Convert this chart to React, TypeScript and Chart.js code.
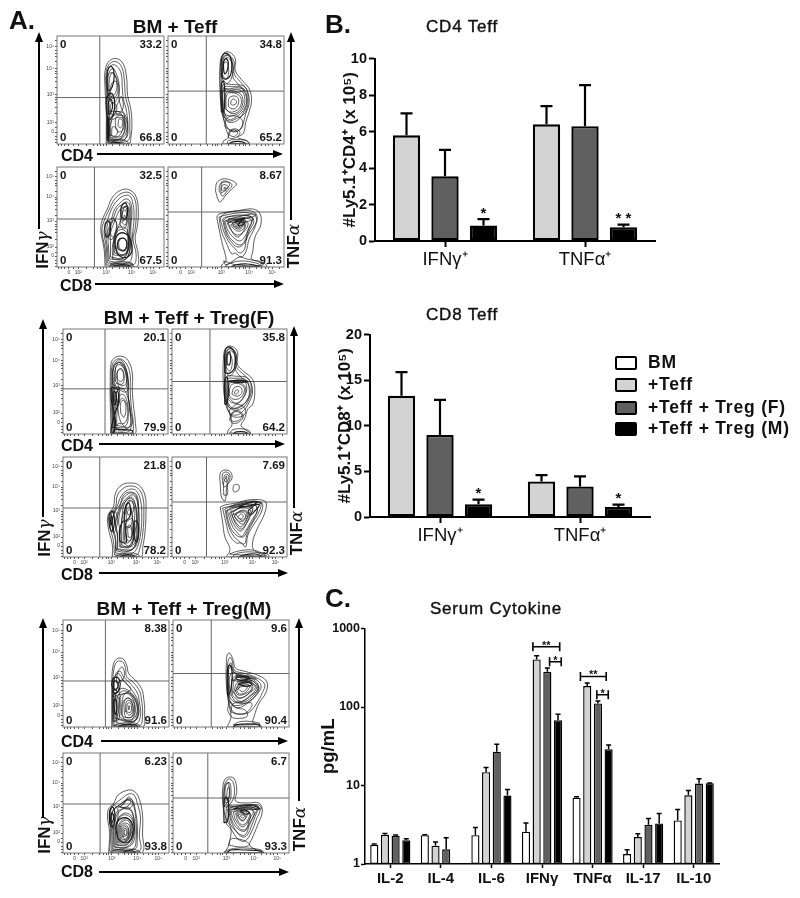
import React, { useEffect, useRef } from "react";
import { Chart, registerables } from "chart.js";

Chart.register(...registerables);

const FONT = "'Liberation Sans', Arial, sans-serif";
const GREEK = "'DejaVu Serif', serif";

// ---------- Bar chart data ----------
const effLabels = ["IFNγ⁺", "TNFα⁺"];
const cd4Teff = [5.8, 6.4];
const cd4TeffErr = [7.0, 7.4];
const cd4TregF = [3.55, 6.3];
const cd4TregFErr = [5.0, 8.55];
const cd4TregM = [0.85, 0.75];
const cd4TregMErr = [1.2, 0.9];
const cd4Stars = [
  { cat: 0, bar: 2, value: 1.6, text: "*" },
  { cat: 1, bar: 2, value: 1.3, text: "* *" },
];

const cd8Teff = [13.3, 3.9];
const cd8TeffErr = [15.9, 4.6];
const cd8TregF = [9.0, 3.35];
const cd8TregFErr = [12.85, 4.45];
const cd8TregM = [1.4, 1.1];
const cd8TregMErr = [1.9, 1.35];
const cd8Stars = [
  { cat: 0, bar: 2, value: 2.75, text: "*" },
  { cat: 1, bar: 2, value: 2.25, text: "*" },
];

const cytokines = ["IL-2", "IL-4", "IL-6", "IFNγ", "TNFα", "IL-17", "IL-10"];
const serumBM = [1.76, 2.33, 2.33, 2.58, 7.0, 1.34, 3.59];
const serumBMErr = [1.8, 2.36, 2.92, 3.32, 7.2, 1.52, 4.95];
const serumTeff = [2.36, 1.71, 14.8, 404, 185, 2.2, 7.5];
const serumTeffErr = [2.45, 1.9, 16.9, 450, 202, 2.43, 8.64];
const serumTregF = [2.29, 1.54, 27, 281, 111, 3.16, 10.6];
const serumTregFErr = [2.34, 2.16, 33.5, 313, 119, 3.8, 12.2];
const serumTregM = [2.0, null, 7.46, 68, 29, 3.29, 10.7];
const serumTregMErr = [2.1, null, 8.9, 81, 32.9, 4.4, 10.8];
const serumBrackets = [
  { from: 2.82, to: 3.35, value: 585, text: "**" },
  { from: 3.15, to: 3.38, value: 377, text: "*" },
  { from: 3.76, to: 4.27, value: 245, text: "**" },
  { from: 4.085, to: 4.31, value: 143, text: "*" },
];

const legendItems = ["BM", "+Teff", "+Teff + Treg (F)", "+Teff + Treg (M)"];
const legendColors = ["#ffffff", "#d3d3d3", "#606060", "#000000"];

// ---------- Flow cytometry axis values (biexponential channel, 0-100) ----------
const decadeTicks = [11, 20, 46, 70, 90];
const decadeLabels = ["0", "10²", "10³", "10⁴", "10⁵"];
const minorTicks = [1, 4, 7, 15, 28, 34, 38, 41, 43, 52, 58, 62, 65, 67, 76, 81, 84, 87, 96];

// ---------- Contours: x,y,x,y... in channel units ----------
const g1Cd4IfnLoops = [
  [46,0,46,30,45,50,45,68,49,77,56,79,62,74,65,62,66,45,69,32,70,18,69,6,67,0],
  [47,1,47,30,46,50,46,67,50,75,56,76,61,70,63,58,64,44,67,32,68,16,66,3],
  [48,2,48,30,47,50,47,66,51,73,56,72,60,65,61,52,62,42,65,30,66,14,62,3],
  [49,4,49,28,48,48,48,64,52,70,55,66,58,56,58,42,60,34,63,26,63,12,58,4],
  [50,6,51,22,56,30,60,28,62,20,60,10,55,6],
  [55,14,55,24,60,27,63,22,62,14,58,11],
  [57,17,58,23,61,22,61,17,59,15],
  [50,46,51,56,55,58,57,50,55,44,52,42],
  [51,8,52,16,56,14,56,9,53,7],
  [49,3,52,4,60,4,66,2,66,0,49,0],
  [47,3,47,26,49,30,53,30,58,30,63,28,66,18,64,5],
  [48,5,48,22,52,26,58,27,64,24,65,12,60,5],
  [49,8,50,20,55,24,61,24,64,16,60,7],
  [47,48,47,62,50,66,54,64,56,54,54,46,50,44],
  [49,44,49,60,52,66,56,60,58,48,55,40,51,38],
  [50,30,50,36,53,38,56,34,54,28,51,27],
  [54,32,58,40,60,44,62,36,60,30,56,28],
];
const g1Cd4IfnCores = [
  [47,24,46,38,48,46,52,46,54,36,52,26,49,22],
  [48,28,48,38,50,42,52,36,50,28],
  [47,50,47,66,50,72,53,68,53,58,50,50],
  [47,4,47,24,48,24,48,4],
  [50,0,52,2,58,1,59,0],
];
const g1Cd4TnfLoops = [
  [47,0,48,3,52,6,50,14,47,28,45,45,45,75,48,84,53,85,58,79,58,68,63,60,70,51,72,40,70,30,67,20,65,10,60,6,68,3,70,0],
  [46,30,46,74,49,82,53,82,57,76,57,65,62,58,68,50,70,38,67,28,64,17,60,12,54,12,50,18],
  [47,30,47,72,50,80,53,79,56,72,56,62,60,56,66,48,68,38,65,29,60,22,53,20,49,24],
  [48,32,48,50,54,50,62,50,66,44,65,34,60,28,53,26,49,28],
  [50,33,51,46,58,47,63,42,62,34,57,30,52,30],
  [52,35,53,43,59,44,61,39,58,33,54,33],
  [54,37,55,41,58,41,59,38,56,36],
  [52,6,53,12,58,14,62,11,60,7,55,5],
  [51,0,52,3,60,4,68,3,69,0],
  [48,52,52,51,60,52,66,50,60,48,50,49],
  [47,34,48,52,56,53,64,52,68,44,66,33,60,26,52,23],
  [46,36,47,54,56,55,66,53,69,44,67,30,60,24,51,22],
  [49,16,51,24,58,26,64,22,63,14,56,12],
  [47,60,47,76,50,82,54,80,56,72,55,62,51,56],
  [47,64,48,74,50,76,52,72,52,64,50,60],
  [49,33,50,47,57,49,64,44,63,33,56,28],
  [53,8,54,12,58,13,60,10,57,7],
];
const g1Cd4TnfCores = [
  [46,62,46,78,49,84,53,82,55,74,54,64,50,60],
  [48,68,48,76,50,79,52,75,51,68,49,65],
  [46,30,46,56,48,58,49,44,48,30],
  [52,0,56,2,64,2,67,0],
];
const g1Cd8IfnLoops = [
  [45,0,44,18,41,36,42,46,47,58,52,70,60,77,68,77,74,70,76,55,75,40,73,28,76,12,74,0],
  [46,2,45,18,42,36,44,46,49,58,54,68,61,74,68,74,73,67,74,52,73,38,71,28,74,12,71,2],
  [47,4,46,20,44,36,47,46,51,58,56,66,62,71,68,71,71,63,72,50,71,36,70,24,70,10,66,4],
  [48,6,47,20,46,30,50,44,54,58,59,64,64,68,68,66,70,56,69,40,69,24,66,10,58,5],
  [52,8,52,22,56,36,60,48,63,60,67,60,68,46,67,30,66,14,60,8],
  [56,16,55,28,60,34,66,32,68,24,65,14,60,12],
  [58,19,58,26,62,29,65,25,64,18,61,17],
  [59,42,60,56,64,60,66,52,65,42,62,38],
  [49,36,51,45,55,46,55,36,52,30],
  [49,1,54,3,62,4,70,3,71,0,49,0],
  [49,8,48,22,48,32,52,46,56,58,60,62,65,65,68,62,69,50,68,34,68,18,64,8],
  [50,10,50,24,50,34,54,46,58,56,62,60,66,60,67,50,66,34,66,18,62,9],
  [53,12,53,26,56,38,62,40,66,36,67,22,63,12],
  [54,14,54,28,58,37,64,36,67,28,65,15,60,12],
  [47,32,47,42,50,48,54,48,56,38,52,28,49,28],
  [61,44,61,54,64,57,65,50,64,42],
  [62,46,63,52,64,48],
  [50,3,56,5,66,5,71,3,66,2,54,2],
];
const g1Cd8IfnCores = [
  [45,33,45,43,48,46,50,40,49,32,46,30],
  [56,14,54,26,59,34,66,32,69,26,70,16,66,10,60,10],
  [57,18,57,26,61,29,65,26,65,20,62,16],
  [60,50,60,60,64,64,66,56,64,48],
  [52,0,56,2,66,2,68,0],
];
const g1Cd8TnfLoops = [
  [41,76,42,84,47,88,54,87,59,83,55,78,50,72,45,65,43,68],
  [44,76,45,83,49,85,54,84,55,81,51,76,47,71],
  [46,77,47,82,50,82,52,80,49,76],
  [48,78,49,80,50,79],
  [42,50,44,38,47,22,49,14,50,6,47,3,46,0,85,0,84,3,78,6,72,8,73,15,75,30,80,42,79,54,73,58,64,57,52,55,44,53],
  [44,50,46,36,50,25,55,13,58,14,63,10,67,15,70,28,75,40,76,50,70,54,60,54,50,52],
  [47,48,50,34,54,26,60,20,66,24,70,36,74,46,70,51,60,51,50,50],
  [49,46,52,36,57,29,62,26,66,30,70,40,72,47,64,49,54,48],
  [51,44,55,36,60,32,66,36,69,44,64,47,56,46],
  [54,42,58,37,62,36,66,40,65,44,58,45],
  [56,42,60,39,64,41,62,43,58,43],
  [58,41,60,40,62,41,60,42],
  [50,2,54,4,62,6,72,5,80,2,80,0,50,0],
  [45,48,48,36,52,26,58,18,62,14,66,18,68,30,74,40,77,50,72,56,60,56,48,53],
  [48,47,51,34,56,26,62,22,66,26,69,36,72,44,72,50,62,52,52,50],
  [52,44,56,34,60,30,64,34,67,42,66,47,58,47],
  [55,43,58,39,62,38,65,42,62,45,58,45],
  [50,46,60,48,70,50,74,48,70,46,60,44],
  [52,48,60,50,72,53,76,52,66,48],
  [48,6,50,2,56,6,62,10,68,8,76,6,82,2,60,2],
  [46,85,48,86,52,85,53,82,50,78,46,74],
];
const g1Cd8TnfCores = [
  [54,0,58,2,68,3,78,1,78,0],
  [60,42,64,46,66,44,62,41],
  [58,46,66,49,64,47,58,45],
];
const g2Cd4IfnLoops = [
  [46,0,45,30,45,50,46,68,50,73,56,74,62,70,66,58,66,42,67,28,69,10,68,0],
  [47,1,46,50,47,66,51,71,56,71,61,66,64,56,64,42,65,26,67,8,65,1],
  [48,2,47,50,48,64,52,68,56,68,60,62,62,52,62,40,63,26,65,8,62,2],
  [49,52,50,63,53,66,57,64,60,56,60,44,55,44,50,46],
  [51,54,52,60,55,62,58,56,57,48,53,48],
  [53,18,52,32,56,38,60,34,62,22,60,12,56,10],
  [55,20,55,30,58,32,60,24,58,16],
  [49,3,49,30,51,40,54,44,50,44,48,30],
  [50,6,53,10,58,8,60,4,54,3],
  [47,6,47,30,48,48,48,64,52,70,56,70,60,62,62,50,62,38,64,24,65,8],
  [49,6,50,26,52,42,58,42,62,34,64,22,64,8,58,4],
  [51,8,52,24,56,34,60,30,62,20,60,8],
  [50,50,50,62,53,68,56,66,60,58,60,48,56,46],
  [52,52,52,60,56,62,58,54,55,50],
  [47,48,48,62,52,68,57,66,61,56,62,44,60,40,54,42],
  [49,34,49,46,52,48,54,36,52,26],
];
const g2Cd4IfnCores = [
  [46,32,46,44,49,44,52,42,53,32,51,24,48,14,46,6,46,0,48,0,50,12],
  [47,0,50,4,60,4,66,3,66,0],
  [48,32,48,40,50,40,51,32,49,28],
];
const g2Cd4TnfLoops = [
  [48,0,49,4,52,8,51,16,48,26,45,40,45,76,48,83,53,83,57,78,57,66,62,60,70,52,72,40,70,28,66,24,63,14,60,8,64,4,68,0],
  [46,30,46,75,49,81,53,81,56,75,56,64,62,57,68,50,70,40,67,30,62,22,56,18,50,20],
  [47,32,47,72,50,79,53,78,55,73,55,62,60,54,66,48,68,40,65,32,60,26,53,24,49,26],
  [48,34,49,50,54,51,62,51,65,44,63,36,58,30,52,30],
  [50,36,51,46,58,48,63,43,60,35,54,33],
  [52,38,54,44,59,45,61,40,57,36],
  [54,39,56,42,58,41,56,38],
  [50,13,52,20,58,22,62,17,59,12,54,10],
  [50,1,53,4,60,5,67,3,68,0],
  [47,34,48,52,54,53,64,52,67,44,66,33,60,27,52,25],
  [46,36,47,54,56,55,66,53,69,42,66,31,60,24,51,24],
  [51,14,53,20,58,21,61,17,58,13,53,12],
  [47,60,47,76,50,81,54,79,56,71,55,62,50,55],
  [47,64,48,74,50,76,52,72,52,64,50,60],
  [49,35,50,48,57,50,64,44,62,35,56,29],
  [50,23,56,28,62,26,64,20,58,16,51,18],
];
const g2Cd4TnfCores = [
  [46,58,46,78,49,83,53,80,55,73,54,62,50,58],
  [48,66,48,76,50,78,51,72,50,66],
  [46,28,46,52,48,54,49,42,48,30],
  [53,0,56,2,63,2,66,0],
  [48,50,56,51,66,50,58,49],
];
const g2Cd8IfnLoops = [
  [47,0,47,12,43,30,43,42,48,50,50,64,56,72,64,74,72,72,78,62,79,44,78,24,76,10,74,0],
  [49,2,48,16,45,30,45,42,50,50,52,62,58,69,64,71,71,69,76,60,77,44,76,24,73,8,70,2],
  [50,4,50,16,47,30,48,42,52,52,55,60,60,66,65,68,70,66,74,56,75,40,74,24,70,8,64,3],
  [51,6,52,22,50,36,54,50,57,58,62,63,66,64,70,60,72,46,72,28,68,10,60,5],
  [54,10,54,22,56,36,58,52,64,60,68,56,70,40,68,22,64,10],
  [58,14,58,24,60,34,66,38,68,26,66,14,62,11],
  [60,18,60,28,64,32,66,24,64,16],
  [60,46,62,56,66,56,67,46,63,42],
  [50,1,56,3,66,4,72,2,72,0,50,0],
  [50,8,50,20,47,32,49,44,54,52,58,62,64,65,70,62,72,50,72,30,70,12,62,6],
  [52,8,52,20,50,32,53,44,57,54,62,60,67,62,71,54,71,36,70,18,66,8],
  [55,10,55,24,53,36,56,50,62,58,66,58,70,46,70,30,67,12],
  [56,12,56,24,56,38,60,50,64,56,68,50,68,36,67,20,62,10],
  [59,16,58,30,60,46,64,50,66,40,66,22,62,14],
  [62,20,62,30,65,28,65,20],
  [47,30,46,42,49,46,52,40,51,30,48,24],
  [60,30,61,44,64,48,66,40,64,30],
];
const g2Cd8IfnCores = [
  [44,32,44,42,47,46,49,38,48,28,46,26],
  [45,34,46,41,47,38,46,32],
  [54,16,54,28,58,36,60,24,60,14],
  [68,18,67,30,69,36,72,32,72,22,70,15],
  [58,38,60,52,63,54,64,42,60,36],
  [54,0,58,2,66,2,68,0],
];
const g2Cd8TnfLoops = [
  [42,72,42,84,46,87,51,85,52,78,48,72,47,62,46,56,43,60],
  [44,74,44,83,47,85,50,83,50,77,46,70],
  [45,78,46,82,49,82,49,78,47,75],
  [47,79,47,81,48,80],
  [53,68,54,72,58,72,58,67,54,65],
  [42,50,44,35,46,20,50,10,50,5,48,2,48,0,84,0,83,3,72,6,70,14,74,28,80,42,82,54,78,57,66,57,56,54,46,52],
  [44,49,47,34,50,22,56,14,60,14,64,10,66,22,72,34,78,46,78,54,68,55,56,52,48,50],
  [47,46,50,32,54,24,60,20,64,26,70,38,74,46,72,52,62,52,52,48],
  [50,44,54,32,60,26,64,32,68,42,70,48,62,50,54,46],
  [52,42,56,34,60,30,64,36,66,44,62,47,56,44],
  [54,41,58,36,62,36,64,42,60,45],
  [57,40,60,38,62,41,60,43],
  [53,1,58,4,70,5,80,2,80,0,53,0],
  [46,48,49,32,53,22,58,16,63,13,65,22,70,34,76,46,77,54,68,56,56,53],
  [48,47,52,32,57,24,62,20,66,28,72,40,74,50,66,53,54,50],
  [51,46,55,34,60,28,65,34,69,44,70,50,60,50,53,46],
  [53,44,57,36,62,33,66,40,68,47,60,49,54,46],
  [55,43,60,37,63,38,65,44,60,46],
  [50,50,60,53,72,55,78,54,72,52,60,50],
  [45,62,45,75,47,79,48,72,48,62],
  [50,3,58,6,70,7,80,3,82,1,60,2],
];
const g2Cd8TnfCores = [
  [58,0,62,2,72,3,78,1,78,0],
  [58,50,66,54,74,55,70,52,62,50],
  [66,46,72,52,76,52,72,46,68,42],
];
const g3Cd4IfnLoops = [
  [46,0,46,40,47,56,50,63,56,64,60,58,62,50,68,44,74,36,76,28,77,12,75,0],
  [47,1,47,40,48,54,51,61,56,61,59,55,60,47,66,42,72,34,74,26,75,10,72,1],
  [48,2,48,38,50,50,54,52,57,47,64,40,70,32,72,24,73,10,68,2],
  [50,4,54,26,52,40,56,44,62,38,68,30,71,22,70,8,62,3],
  [56,10,56,26,60,32,66,28,70,18,68,6,60,6],
  [58,12,58,24,62,27,67,22,66,10,60,9],
  [60,14,61,22,64,22,64,14],
  [62,16,62,20,63,19],
  [48,6,48,26,52,28,54,18,52,6],
  [48,1,52,3,64,4,72,2,72,0,48,0],
  [49,8,49,26,52,34,58,36,66,30,71,20,70,8,62,5],
  [51,8,51,26,55,33,61,33,68,26,70,14,64,6],
  [53,10,53,26,57,31,63,30,68,20,66,8,58,7],
  [55,12,57,24,62,27,66,20,65,10,58,9],
  [47,28,48,44,52,50,58,42,64,36,60,32,52,30],
  [59,14,60,24,64,24,66,16,63,11],
  [50,42,52,52,56,56,58,48,54,42],
  [47,5,47,30,49,30,50,6],
];
const g3Cd4IfnCores = [
  [47,36,46,40,48,46,52,46,54,40,52,33,48,32],
  [48,36,48,42,50,43,52,39,50,35],
  [47,33,49,35,51,33,49,31],
  [49,12,48,24,50,26,51,18,50,12],
  [52,0,56,2,68,2,70,0],
];
const g3Cd4TnfLoops = [
  [47,1,48,3,50,10,48,22,46,40,46,60,47,68,49,69,52,62,54,55,62,52,74,48,81,42,80,32,74,22,70,10,69,4,75,2,76,0,47,0],
  [47,30,47,58,49,65,51,62,53,53,62,50,72,46,79,40,77,32,72,22,66,14,60,12,52,14,49,20],
  [48,30,48,56,50,60,52,52,62,48,72,44,76,38,72,30,64,22,56,18,50,22],
  [50,30,52,46,60,46,70,42,74,36,68,30,60,24,54,24],
  [52,32,56,42,66,42,71,37,66,32,58,27],
  [54,34,58,40,64,40,68,36,62,31,56,30],
  [56,36,60,38,64,37,60,33],
  [50,44,56,44,68,43,60,42],
  [54,48,64,48,72,45,64,46],
  [48,26,48,54,51,56,53,50,62,47,71,43,74,36,70,28,62,22,54,20,50,22],
  [49,28,50,50,60,47,70,42,73,36,68,28,60,23,52,24],
  [51,30,54,46,62,44,70,40,72,36,66,29,58,24],
  [53,32,58,42,64,42,69,38,64,30,56,27],
  [55,34,60,40,66,38,62,32,57,31],
  [50,14,52,22,60,22,68,22,64,14,56,12],
  [47,16,49,24,54,18,62,16,64,10,55,8,50,10],
  [52,2,58,5,68,5,75,3,65,2],
];
const g3Cd4TnfCores = [
  [47,30,47,54,49,58,51,50,50,36,48,30],
  [52,0,54,2,66,3,74,2,75,0],
  [54,46,60,47,66,46,62,44,56,44],
  [56,40,62,42,68,40,64,38],
];
const g3Cd8IfnLoops = [
  [43,0,44,20,42,36,43,44,48,50,52,58,62,63,68,61,72,54,75,38,75,20,74,0],
  [44,2,45,20,44,36,45,44,50,50,55,54,62,59,67,58,70,50,73,36,72,18,72,2],
  [46,3,46,20,45,36,47,42,51,46,56,50,62,54,66,52,68,44,70,30,70,14,68,4],
  [48,6,48,28,50,40,56,44,62,44,66,38,68,24,66,10,58,5],
  [50,8,50,26,54,36,60,38,66,32,67,20,62,10,56,8],
  [52,10,52,26,56,33,62,34,65,24,62,14,56,10],
  [54,13,54,26,58,30,63,27,62,16,58,12],
  [56,16,56,25,60,26,62,20,59,14],
  [58,18,58,23,60,22,60,18],
  [52,46,56,48,60,54,64,52,60,46],
  [45,1,50,3,62,4,72,2,72,0,45,0],
  [47,4,47,22,46,36,48,44,53,48,58,52,64,52,67,46,69,30,69,14,66,4],
  [49,6,49,24,50,36,54,42,60,46,65,42,67,30,66,14,60,6],
  [51,8,51,26,53,36,60,40,66,34,66,20,60,8],
  [53,11,53,26,57,32,62,32,64,22,60,12],
  [55,14,55,26,59,28,62,24,60,14],
  [57,16,57,24,60,24,60,18],
  [46,28,45,42,48,48,52,42,50,28,48,24],
  [54,46,58,50,62,56,66,50,62,44],
];
const g3Cd8IfnCores = [
  [44,30,44,42,47,46,49,38,48,28,46,26],
  [45,32,46,40,48,36,46,30],
  [52,14,50,26,54,34,62,34,66,26,64,14,58,10],
  [56,0,60,2,66,2,68,0],
];
const g3Cd8TnfLoops = [
  [44,0,46,3,48,8,50,24,46,34,43,48,43,66,45,74,49,76,53,74,55,62,54,52,64,50,74,50,77,42,73,28,68,14,66,8,72,3,78,0],
  [44,48,44,65,46,72,49,74,52,70,53,60,51,52,46,46],
  [45,50,45,64,47,70,49,70,50,62,49,52],
  [46,54,47,64,48,66,49,60,47,52],
  [46,46,46,30,50,24,56,14,62,12,68,22,72,34,75,44,70,48,60,48,50,46],
  [48,44,50,32,56,20,62,18,66,28,70,38,72,44,64,46,54,44],
  [50,42,52,34,58,24,63,24,66,34,69,42,60,44,54,42],
  [54,40,56,32,60,28,64,32,66,40,60,42],
  [56,38,60,32,63,36,60,39],
  [44,1,50,4,62,5,76,3,78,0,44,0],
  [47,44,49,30,54,22,60,16,64,18,68,28,72,40,74,46,66,48,52,46],
  [49,43,51,32,56,24,62,22,66,30,70,40,66,45,54,44],
  [52,41,54,33,60,26,64,30,67,38,62,43,56,42],
  [55,39,58,33,62,34,64,40,60,41],
  [58,37,60,35,62,37,60,38],
  [46,48,54,48,64,48,74,48,76,44,66,46,54,46],
  [48,8,50,14,56,14,62,12,66,8,58,6],
  [44,46,44,60,46,70,48,70,48,54],
];
const g3Cd8TnfCores = [
  [44,30,44,52,46,56,48,48,47,32],
  [46,0,50,3,62,3,76,2,76,0],
  [52,44,60,47,70,47,74,44,64,44],
  [58,42,62,43,66,40,62,39],
];

// Quadrant percentages and gates of each panel
const flowPanels = [
  { rect: [57, 33, 107, 111], gate: [40, 43], top: "33.2", bottom: "66.8", loops: g1Cd4IfnLoops, cores: g1Cd4IfnCores, yLabels: true, xLabels: false },
  { rect: [168, 33, 116, 111], gate: [33, 49], top: "34.8", bottom: "65.2", loops: g1Cd4TnfLoops, cores: g1Cd4TnfCores, yLabels: false, xLabels: false },
  { rect: [57, 164, 107, 103], gate: [35, 48], top: "32.5", bottom: "67.5", loops: g1Cd8IfnLoops, cores: g1Cd8IfnCores, yLabels: true, xLabels: true },
  { rect: [168, 164, 116, 103], gate: [29, 55], top: "8.67", bottom: "91.3", loops: g1Cd8TnfLoops, cores: g1Cd8TnfCores, yLabels: false, xLabels: true },
  { rect: [63, 326, 105, 108], gate: [40, 43], top: "20.1", bottom: "79.9", loops: g2Cd4IfnLoops, cores: g2Cd4IfnCores, yLabels: true, xLabels: false },
  { rect: [172, 326, 115, 108], gate: [33, 50], top: "35.8", bottom: "64.2", loops: g2Cd4TnfLoops, cores: g2Cd4TnfCores, yLabels: false, xLabels: false },
  { rect: [63, 454, 105, 103], gate: [35, 49], top: "21.8", bottom: "78.2", loops: g2Cd8IfnLoops, cores: g2Cd8IfnCores, yLabels: true, xLabels: true },
  { rect: [172, 454, 115, 103], gate: [30, 55], top: "7.69", bottom: "92.3", loops: g2Cd8TnfLoops, cores: g2Cd8TnfCores, yLabels: false, xLabels: true },
  { rect: [63, 617, 106, 110], gate: [40, 43], top: "8.38", bottom: "91.6", loops: g3Cd4IfnLoops, cores: g3Cd4IfnCores, yLabels: true, xLabels: false },
  { rect: [173, 617, 116, 110], gate: [33, 50], top: "9.6", bottom: "90.4", loops: g3Cd4TnfLoops, cores: g3Cd4TnfCores, yLabels: false, xLabels: false },
  { rect: [63, 750, 106, 103], gate: [35, 49], top: "6.23", bottom: "93.8", loops: g3Cd8IfnLoops, cores: g3Cd8IfnCores, yLabels: true, xLabels: true },
  { rect: [173, 750, 116, 103], gate: [30, 55], top: "6.7", bottom: "93.3", loops: g3Cd8TnfLoops, cores: g3Cd8TnfCores, yLabels: false, xLabels: true },
];

// ---------- Helpers ----------
function toPoints(flat: number[], close: boolean) {
  const pts: { x: number; y: number }[] = [];
  for (let i = 0; i < flat.length; i += 2) pts.push({ x: flat[i], y: flat[i + 1] });
  if (close) pts.push({ ...pts[0] });
  return pts;
}

function flowConfig(p: any) {
  const labelMap: Record<number, string> = {};
  decadeTicks.forEach((t, i) => (labelMap[t] = decadeLabels[i]));
  const allTicks = [...decadeTicks, ...minorTicks].map((value) => ({ value }));
  const contour = (flat: number[], width: number) => ({
    data: toPoints(flat, true),
    borderColor: "#1a1a1a",
    borderWidth: width,
    pointRadius: 0,
    tension: 0.4,
    fill: false,
  });
  const gateLine = (pts: number[]) => ({
    data: toPoints(pts, false),
    borderColor: "#666",
    borderWidth: 1,
    pointRadius: 0,
    tension: 0,
    fill: false,
  });
  const quadLabels = {
    id: "quadLabels",
    afterDraw(chart: any) {
      const { ctx, chartArea: a } = chart;
      ctx.save();
      ctx.font = `bold 11.5px ${FONT}`;
      ctx.fillStyle = "#151515";
      ctx.textBaseline = "middle";
      ctx.textAlign = "left";
      ctx.fillText("0", a.left + 3, a.top + 9);
      ctx.fillText("0", a.left + 3, a.bottom - 6);
      ctx.textAlign = "right";
      ctx.fillText(p.top, a.right - 2, a.top + 9);
      ctx.fillText(p.bottom, a.right - 2, a.bottom - 6);
      ctx.strokeStyle = "#777";
      ctx.lineWidth = 1;
      ctx.strokeRect(a.left, a.top, a.right - a.left, a.bottom - a.top);
      ctx.restore();
    },
  };
  const axis = (show: boolean, isX: boolean) => ({
    type: "linear",
    min: 0,
    max: 100,
    afterBuildTicks: (s: any) => {
      s.ticks = allTicks.map((t) => ({ ...t }));
    },
    afterFit: (s: any) => {
      if (isX) s.height = 10;
      else s.width = 14;
    },
    grid: { display: true, drawOnChartArea: false, drawTicks: true, tickLength: 2, tickWidth: 1, tickColor: "#555" },
    border: { display: false },
    ticks: {
      autoSkip: false,
      maxRotation: 0,
      padding: 1,
      color: "#444",
      font: { size: 5, family: FONT },
      callback: (v: number) => (show ? labelMap[v] ?? "" : ""),
    },
  });
  return {
    type: "line",
    data: {
      datasets: [
        ...p.loops.map((l: number[]) => contour(l, 0.7)),
        ...p.cores.map((l: number[]) => contour(l, 1.2)),
        gateLine([p.gate[0], 0, p.gate[0], 100]),
        gateLine([0, p.gate[1], 100, p.gate[1]]),
      ],
    },
    options: {
      animation: false,
      responsive: false,
      devicePixelRatio: 1,
      layout: { padding: { top: 1, right: 1, left: 0, bottom: 0 } },
      plugins: { legend: { display: false }, tooltip: { enabled: false } },
      scales: { x: axis(p.xLabels, true), y: axis(p.yLabels, false) },
    },
    plugins: [quadLabels],
  };
}

function barExtras(stars: any[], brackets: any[], capHalf: number, errWidth: number, starFont: string, starShift: number) {
  return {
    id: "barExtras",
    afterDatasetsDraw(chart: any) {
      const { ctx, scales } = chart;
      ctx.save();
      ctx.strokeStyle = "#000";
      ctx.fillStyle = "#111";
      ctx.lineWidth = errWidth;
      chart.data.datasets.forEach((ds: any, di: number) => {
        const meta = chart.getDatasetMeta(di);
        meta.data.forEach((bar: any, i: number) => {
          const top = ds.errorTop[i];
          if (top == null) return;
          const y0 = scales.y.getPixelForValue(ds.data[i]);
          const y1 = scales.y.getPixelForValue(top);
          ctx.beginPath();
          ctx.moveTo(bar.x, y0);
          ctx.lineTo(bar.x, y1);
          ctx.moveTo(bar.x - capHalf, y1);
          ctx.lineTo(bar.x + capHalf, y1);
          ctx.stroke();
        });
      });
      ctx.font = starFont;
      ctx.textAlign = "center";
      ctx.textBaseline = "middle";
      stars.forEach((s) => {
        const bar = chart.getDatasetMeta(s.bar).data[s.cat];
        ctx.fillText(s.text, bar.x, scales.y.getPixelForValue(s.value) + starShift);
      });
      brackets.forEach((b) => {
        const x0 = scales.x.getPixelForValue(b.from);
        const x1 = scales.x.getPixelForValue(b.to);
        const y = scales.y.getPixelForValue(b.value);
        ctx.lineWidth = 1.6;
        ctx.beginPath();
        ctx.moveTo(x0, y - 4.5);
        ctx.lineTo(x0, y + 4.5);
        ctx.moveTo(x1, y - 4.5);
        ctx.lineTo(x1, y + 4.5);
        ctx.moveTo(x0, y);
        ctx.lineTo(x1, y);
        ctx.stroke();
        ctx.fillText(b.text, (x0 + x1) / 2, y - 1);
      });
      ctx.restore();
    },
  };
}

function effConfig(series: any[], stars: any[], yMax: number, step: number, title: string, top: number, xH: number) {
  const colors = ["#d3d3d3", "#606060", "#000000"];
  return {
    type: "bar",
    data: {
      labels: effLabels,
      datasets: series.map((s, i) => ({
        label: s.name,
        data: s.values,
        errorTop: s.err,
        backgroundColor: colors[i],
        borderColor: "#000",
        borderWidth: 2.4,
        borderSkipped: false,
        categoryPercentage: 0.825,
        barPercentage: 0.71,
      })),
    },
    options: {
      animation: false,
      responsive: false,
      devicePixelRatio: 1,
      layout: { padding: { top, right: 5, left: 0, bottom: 0 } },
      plugins: { legend: { display: false }, tooltip: { enabled: false } },
      scales: {
        x: {
          afterFit: (s: any) => (s.height = xH),
          grid: { display: true, offset: false, drawOnChartArea: false, tickLength: 6, tickWidth: 2, tickColor: "#000" },
          border: { display: true, width: 2, color: "#000" },
          ticks: { color: "#111", font: { size: 18.5, family: FONT }, padding: 2, maxRotation: 0 },
        },
        y: {
          min: 0,
          max: yMax,
          afterFit: (s: any) => (s.width = 35),
          grid: { display: true, drawOnChartArea: false, tickLength: 6, tickWidth: 2, tickColor: "#000" },
          border: { display: true, width: 2, color: "#000" },
          ticks: { stepSize: step, color: "#111", font: { size: 14.5, weight: "bold", family: FONT }, padding: 2 },
          title: { display: true, text: title, color: "#111", font: { size: 17, weight: "bold", family: FONT }, padding: 0 },
        },
      },
    },
    plugins: [barExtras(stars, [], 6, 2.2, `bold 15px ${FONT}`, 2)],
  };
}

function serumConfig() {
  const series = [
    { name: "BM", v: serumBM, e: serumBMErr, c: "#ffffff" },
    { name: "+Teff", v: serumTeff, e: serumTeffErr, c: "#d3d3d3" },
    { name: "+Teff + Treg (F)", v: serumTregF, e: serumTregFErr, c: "#606060" },
    { name: "+Teff + Treg (M)", v: serumTregM, e: serumTregMErr, c: "#000000" },
  ];
  return {
    type: "bar",
    data: {
      labels: cytokines,
      datasets: series.map((s) => ({
        label: s.name,
        data: s.v,
        errorTop: s.e,
        backgroundColor: s.c,
        borderColor: "#000",
        borderWidth: 1.4,
        borderSkipped: false,
        categoryPercentage: 0.845,
        barPercentage: 0.76,
      })),
    },
    options: {
      animation: false,
      responsive: false,
      devicePixelRatio: 1,
      layout: { padding: { top: 8, right: 4, left: 0, bottom: 0 } },
      plugins: { legend: { display: false }, tooltip: { enabled: false } },
      scales: {
        x: {
          afterFit: (s: any) => (s.height = 31),
          grid: { display: true, offset: false, drawOnChartArea: false, tickLength: 4, tickWidth: 1.5, tickColor: "#000" },
          border: { display: true, width: 1.5, color: "#000" },
          ticks: { color: "#111", font: { size: 15, weight: "bold", family: FONT }, padding: 2, maxRotation: 0, autoSkip: false },
        },
        y: {
          type: "logarithmic",
          min: 1,
          max: 1000,
          afterBuildTicks: (s: any) => {
            s.ticks = [1, 10, 100, 1000].map((value) => ({ value }));
          },
          afterFit: (s: any) => (s.width = 47),
          grid: { display: true, drawOnChartArea: false, tickLength: 4, tickWidth: 1.5, tickColor: "#000" },
          border: { display: true, width: 1.5, color: "#000" },
          ticks: { color: "#111", font: { size: 12.5, weight: "bold", family: FONT }, padding: 1, callback: (v: number) => String(v) },
          title: { display: true, text: "pg/mL", color: "#111", font: { size: 18.5, weight: "bold", family: FONT }, padding: 0 },
        },
      },
    },
    plugins: [barExtras([], serumBrackets, 2.5, 1.5, `bold 11px ${FONT}`, 0)],
  };
}

// ---------- Components ----------
function ChartBox({ x, y, w, h, build }: any) {
  const ref = useRef<HTMLCanvasElement>(null);
  useEffect(() => {
    const chart = new Chart(ref.current as any, build());
    return () => chart.destroy();
  }, []);
  return <canvas ref={ref} width={w} height={h} style={{ position: "absolute", left: x, top: y, width: w, height: h }} />;
}

function Txt({ x, y, size, bold = true, rot = 0, stroke = 0, spacing = 0, children }: any) {
  return (
    <div
      style={{
        position: "absolute",
        left: x,
        top: y,
        transform: `translate(-50%,-50%) rotate(${rot}deg)`,
        whiteSpace: "nowrap",
        fontFamily: FONT,
        fontSize: size,
        fontWeight: bold ? 700 : 400,
        color: "#111",
        letterSpacing: spacing,
        WebkitTextStroke: stroke ? `${stroke}px #111` : undefined,
        lineHeight: 1,
      }}
    >
      {children}
    </div>
  );
}

function Greek({ c }: any) {
  return <span style={{ fontFamily: GREEK, fontStyle: "italic", fontWeight: 400 }}>{c}</span>;
}

function ArrowH({ x0, x1, y }: any) {
  return (
    <>
      <div style={{ position: "absolute", left: x0, top: y - 1.25, width: x1 - x0 - 8, height: 2.5, background: "#000" }} />
      <div style={{ position: "absolute", left: x1 - 10, top: y - 4.5, width: 0, height: 0, borderTop: "4.5px solid transparent", borderBottom: "4.5px solid transparent", borderLeft: "10px solid #000" }} />
    </>
  );
}

function ArrowV({ x, y0, y1 }: any) {
  return (
    <>
      <div style={{ position: "absolute", left: x - 1.25, top: y0 + 8, width: 2.5, height: y1 - y0 - 8, background: "#000" }} />
      <div style={{ position: "absolute", left: x - 4.5, top: y0, width: 0, height: 0, borderLeft: "4.5px solid transparent", borderRight: "4.5px solid transparent", borderBottom: "10px solid #000" }} />
    </>
  );
}

const groupLayouts = [
  { title: "BM + Teff", tx: 175, ty: 26, yA: [39, 32, 229], ifn: [42, 250], tnfA: [291, 32, 220], tnf: [293, 246], cd4: [77, 156], cd4A: [97, 283, 154], cd8: [76, 286], cd8A: [95, 284, 284] },
  { title: "BM + Teff + Treg(F)", tx: 189, ty: 317, yA: [43, 319, 517], ifn: [44, 538], tnfA: [294, 326, 508], tnf: [296, 533], cd4: [77, 446], cd4A: [99, 285, 444], cd8: [77, 575], cd8A: [99, 288, 573] },
  { title: "BM + Teff + Treg(M)", tx: 184, ty: 608, yA: [43, 618, 817], ifn: [44, 835], tnfA: [299, 618, 801], tnf: [299, 829], cd4: [77, 742], cd4A: [101, 288, 741], cd8: [77, 872], cd8A: [99, 289, 872] },
];

const legendTops = [356, 378, 401, 422];

export default function App() {
  return (
    <div style={{ position: "absolute", left: 0, top: 0, width: 800, height: 898, overflow: "hidden", background: "#fff", filter: "blur(0.35px)" }}>
      {flowPanels.map((p, i) => (
        <ChartBox key={i} x={p.rect[0] - 14} y={p.rect[1] - 1} w={p.rect[2] + 15} h={p.rect[3] + 11} build={() => flowConfig(p)} />
      ))}
      {groupLayouts.map((g, i) => (
        <React.Fragment key={i}>
          <Txt x={g.tx} y={g.ty} size={19}>{g.title}</Txt>
          <ArrowV x={g.yA[0]} y0={g.yA[1]} y1={g.yA[2]} />
          <ArrowV x={g.tnfA[0]} y0={g.tnfA[1]} y1={g.tnfA[2]} />
          <ArrowH x0={g.cd4A[0]} x1={g.cd4A[1]} y={g.cd4A[2]} />
          <ArrowH x0={g.cd8A[0]} x1={g.cd8A[1]} y={g.cd8A[2]} />
          <Txt x={g.ifn[0]} y={g.ifn[1]} size={17} rot={-90}>IFN<Greek c="γ" /></Txt>
          <Txt x={g.tnf[0]} y={g.tnf[1]} size={17} rot={-90}>TNF<Greek c="α" /></Txt>
          <Txt x={g.cd4[0]} y={g.cd4[1]} size={16}>CD4</Txt>
          <Txt x={g.cd8[0]} y={g.cd8[1]} size={16}>CD8</Txt>
        </React.Fragment>
      ))}
      <Txt x={22} y={20} size={26}>A.</Txt>
      <Txt x={338} y={24} size={26}>B.</Txt>
      <Txt x={338} y={598} size={26}>C.</Txt>
      <Txt x={462} y={26} size={17} bold={false} stroke={0.4} spacing={0.8}>CD4 Teff</Txt>
      <Txt x={462} y={314} size={17} bold={false} stroke={0.4} spacing={0.8}>CD8 Teff</Txt>
      <Txt x={496} y={608} size={17} bold={false} stroke={0.4} spacing={0.8}>Serum Cytokine</Txt>
      <ChartBox
        x={340}
        y={48}
        w={320}
        h={235}
        build={() =>
          effConfig(
            [
              { name: "+Teff", values: cd4Teff, err: cd4TeffErr },
              { name: "+Teff + Treg (F)", values: cd4TregF, err: cd4TregFErr },
              { name: "+Teff + Treg (M)", values: cd4TregM, err: cd4TregMErr },
            ],
            cd4Stars, 10, 2, "#Ly5.1⁺CD4⁺ (x 10⁵)", 7, 42
          )
        }
      />
      <ChartBox
        x={335}
        y={324}
        w={320}
        h={235}
        build={() =>
          effConfig(
            [
              { name: "+Teff", values: cd8Teff, err: cd8TeffErr },
              { name: "+Teff + Treg (F)", values: cd8TregF, err: cd8TregFErr },
              { name: "+Teff + Treg (M)", values: cd8TregM, err: cd8TregMErr },
            ],
            cd8Stars, 20, 5, "#Ly5.1⁺CD8⁺ (x 10⁵)", 7, 42
          )
        }
      />
      <ChartBox x={318} y={620} w={405} h={275} build={serumConfig} />
      {legendItems.map((t, i) => (
        <React.Fragment key={t}>
          <div style={{ position: "absolute", left: 615, top: legendTops[i], width: 22, height: 14, boxSizing: "border-box", border: "2.5px solid #000", borderRadius: 2, background: legendColors[i] }} />
          <div style={{ position: "absolute", left: 648, top: legendTops[i] + 7, transform: "translateY(-50%)", fontFamily: FONT, fontSize: 17.5, fontWeight: 700, letterSpacing: 0.8, whiteSpace: "nowrap", color: "#111", lineHeight: 1 }}>{t}</div>
        </React.Fragment>
      ))}
    </div>
  );
}
